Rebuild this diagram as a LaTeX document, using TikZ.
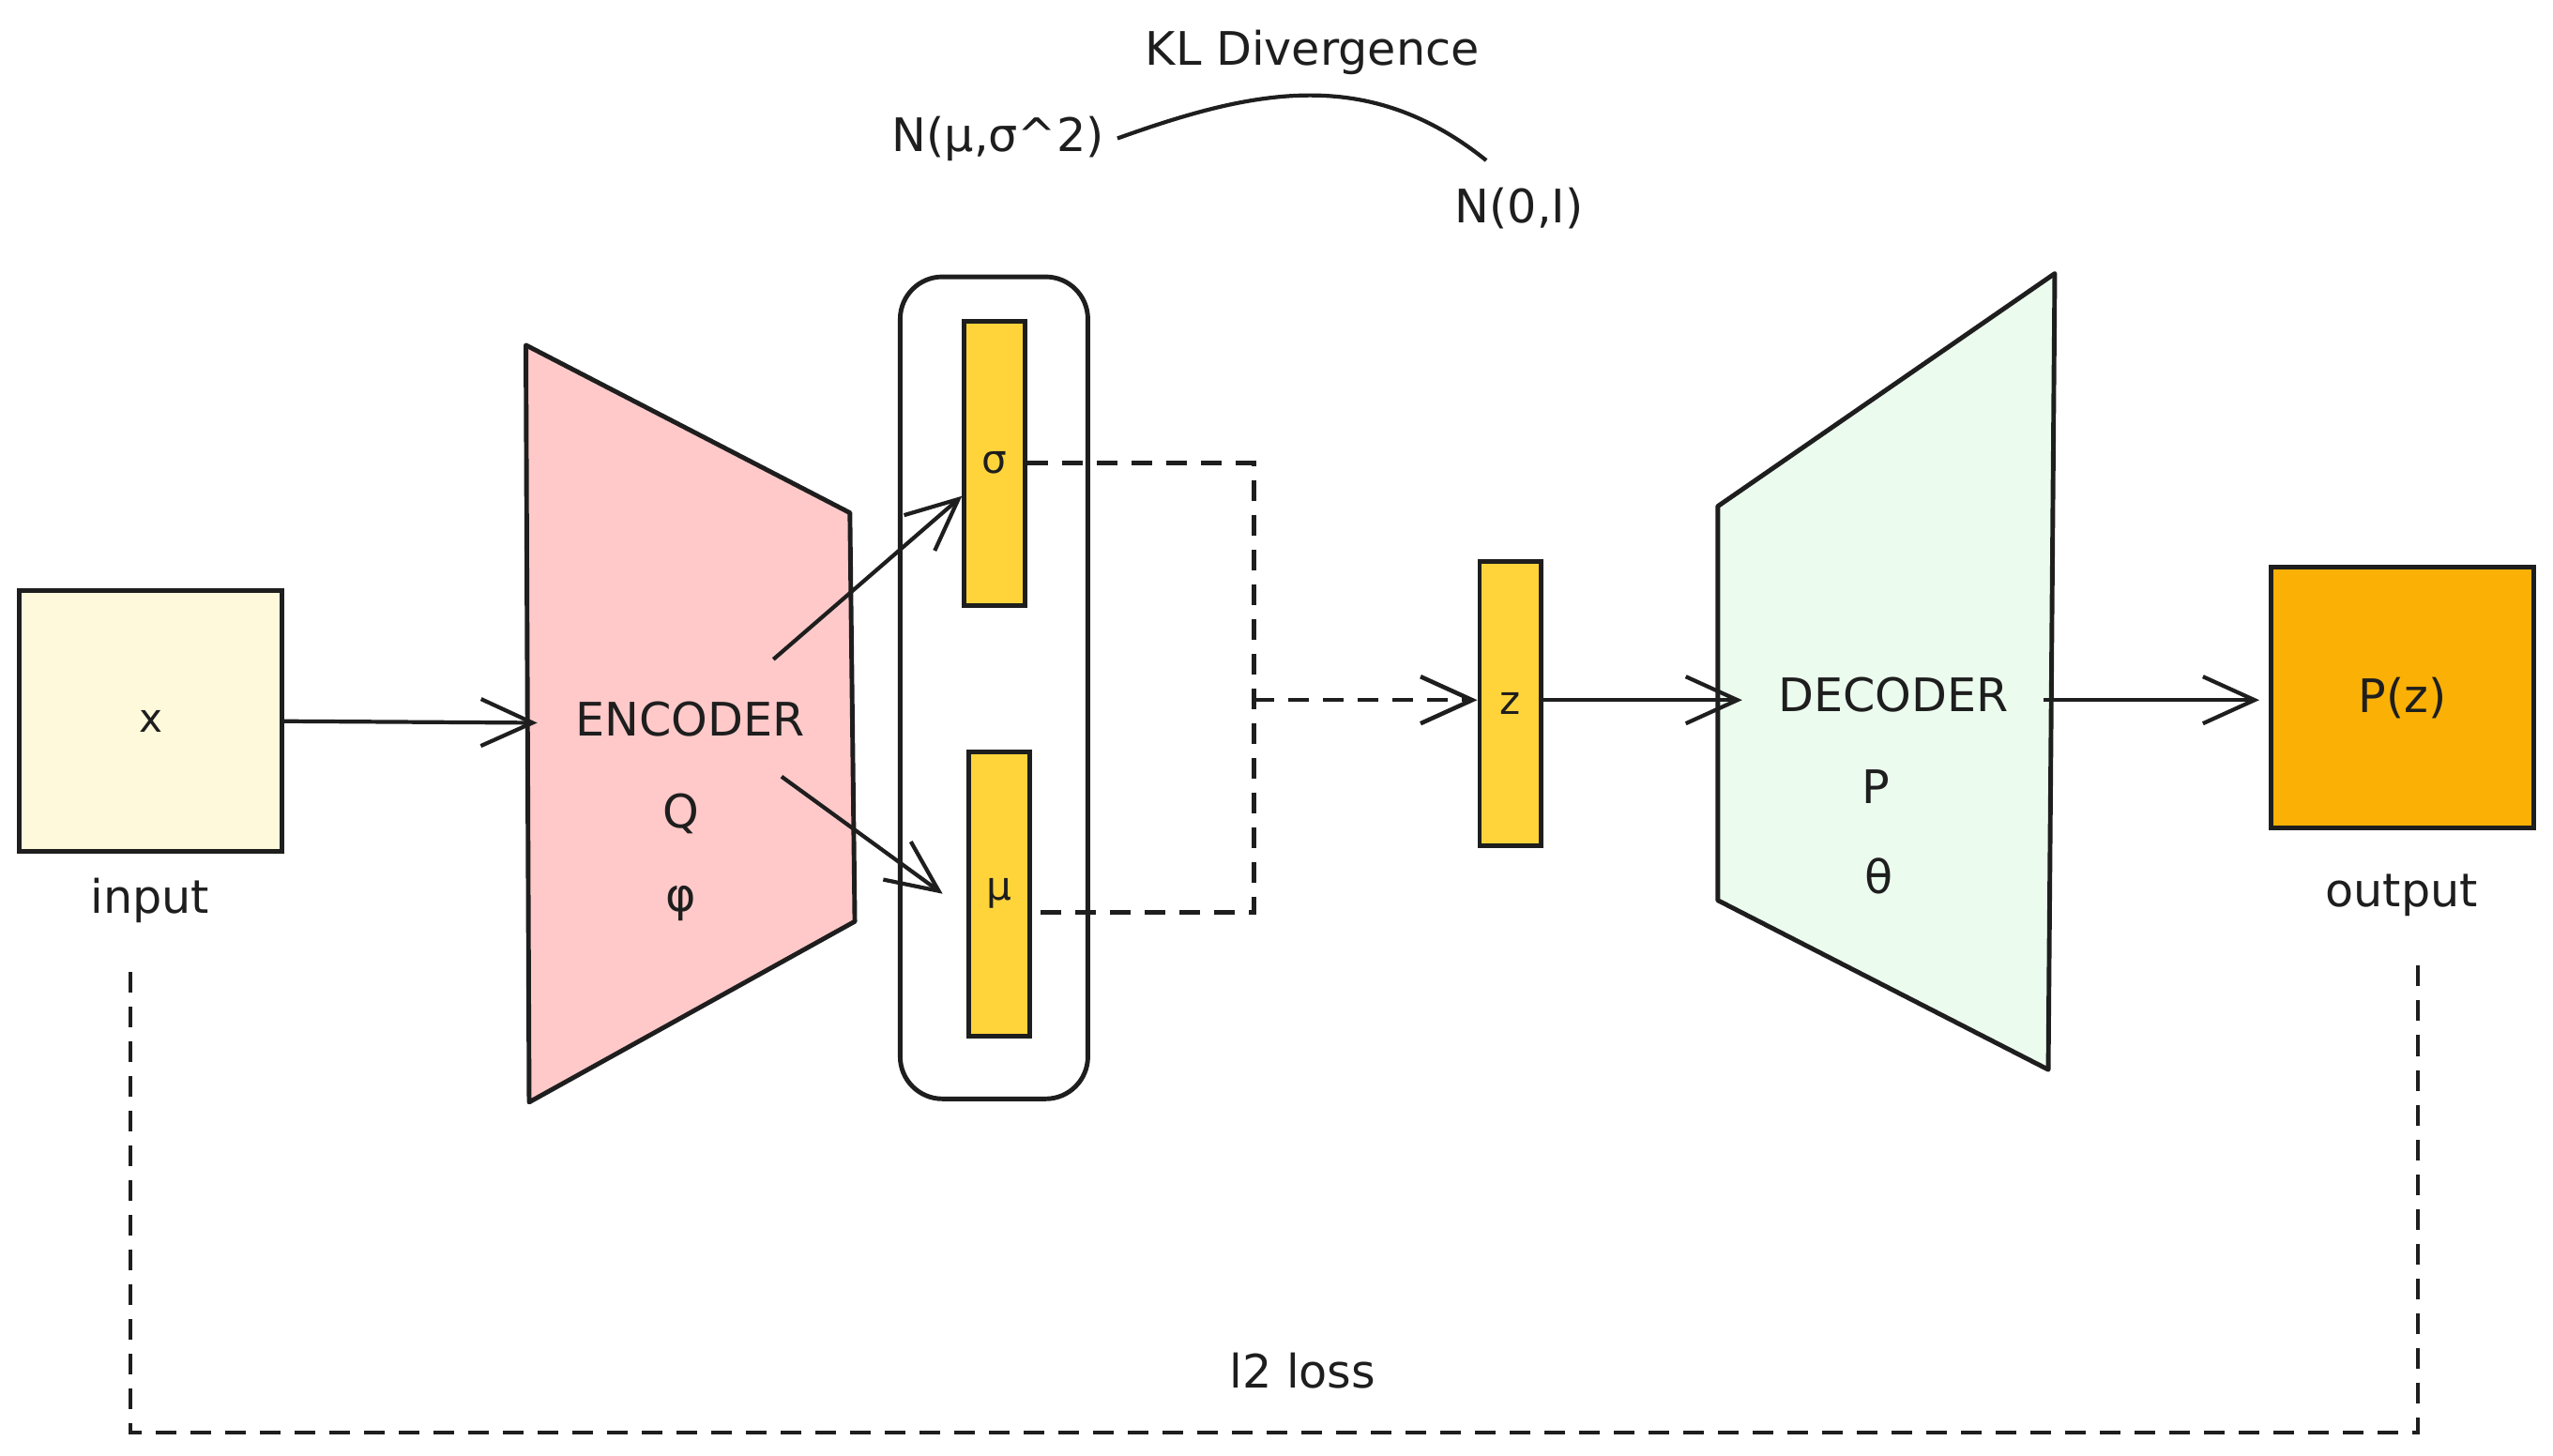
\documentclass[tikz,border=0pt]{standalone}
\usepackage{fontspec}
\setmainfont{DejaVu Sans}
\usetikzlibrary{arrows.meta,positioning}
\definecolor{cInk}{HTML}{1E1E1E}
\definecolor{cIn}{HTML}{FFF9DB}
\definecolor{cEnc}{HTML}{FFC9C9}
\definecolor{cBar}{HTML}{FFD43B}
\definecolor{cDec}{HTML}{EBFBEE}
\definecolor{cOut}{HTML}{FAB005}
\tikzset{
  >={Straight Barb[length=5.5mm,width=5mm]},
  lab/.style={font=\fontsize{14}{16}\selectfont,text=cInk,inner sep=1pt},
  sml/.style={font=\fontsize{12}{14}\selectfont,text=cInk},
  blk/.style={draw=cInk,line width=1.4pt,inner sep=0pt},
  sq/.style={blk,minimum width=2.8cm,minimum height=2.78cm},
  bar/.style={blk,sml,fill=cBar,minimum width=6.5mm,minimum height=3.03cm},
  shp/.style={draw=cInk,line width=1.4pt,line join=round},
  ar/.style={->,line width=1.2pt,cInk},
  dsh/.style={line width=1.3pt,cInk,dash pattern=on 2.2mm off 1.5mm},
}

\begin{document}
\begin{tikzpicture}[x=0.017353cm,y=-0.017353cm]
\useasboundingbox (0,0) rectangle (1568,894);

% input
\node[sq,sml,fill=cIn] (x) at (92.5,443) {x};
\node[lab] (inlbl) at (92,553) {input};

% encoder
\draw[shp,fill=cEnc] (323,212) -- (522,315) -- (525,566) -- (325,677) -- cycle;
\node[lab] (enc) at (424,442) {ENCODER};
\node[lab] (encq) at (418,500) {Q};
\node[lab] (encphi) at (418,555) {φ};
\coordinate (enc-in) at (330,444);
\coordinate (enc-o1) at (475,405);
\coordinate (enc-o2) at (480,477);
\draw[ar] (x.east) -- (enc-in);

% latent
\node[blk,rounded corners=4.5mm,minimum width=2cm,minimum height=8.76cm] (lat) at (610.5,422.5) {};
\node[bar] (sig) at (611,284.5) {σ};
\node[bar] (mu) at (613.5,549) {μ};
\draw[ar] (enc-o1) -- ([yshift=-3.5mm]sig.west);
\draw[ar] (enc-o2) -- ([xshift=-2.5mm]mu.west);

% sampling
\coordinate (mrg) at (770,430);
\draw[dsh] (sig.east) -| (mrg) |- ([yshift=-2mm]mu.east);
\node[bar] (z) at (927.5,432) {z};
\draw[dsh,->] (mrg) -- (mrg -| z.west);

% decoder
\draw[shp,fill=cDec] (1055,311) -- (1262,168) -- (1258,657) -- (1055,553) -- cycle;
\node[lab] (dec) at (1163,427) {DECODER};
\node[lab] (decp) at (1152,483) {P};
\node[lab] (dectheta) at (1154,538) {θ};
\coordinate (dec-in) at (1070,430);
\coordinate (dec-out) at (1255,430);
\draw[ar] (z.east |- dec-in) -- (dec-in);

% output
\node[sq,lab,fill=cOut] (out) at (1475.5,428.5) {P(z)};
\node[lab] (outlbl) at (1475,550) {output};
\draw[ar] (dec-out) -- ([xshift=-1mm]dec-out -| out.west);

% reconstruction loss
\coordinate (l2a) at (80,597);
\coordinate (l2b) at (1485,590);
\draw[dsh] (l2a) -- ++(0,283) -| (l2b);
\node[lab] (l2) at (800,842) {l2 loss};

% KL term
\node[lab] (kl) at (806,32) {KL Divergence};
\node[lab] (nq) at (613,85) {N(μ,σ\^{}2)};
\node[lab] (np) at (933,128) {N(0,I)};
\draw[line width=1.2pt,cInk] ([xshift=1mm]nq.east) .. controls (770,55) and (840,40) .. ([shift={(-3.5mm,2.5mm)}]np.north);
\end{tikzpicture}
\end{document}
